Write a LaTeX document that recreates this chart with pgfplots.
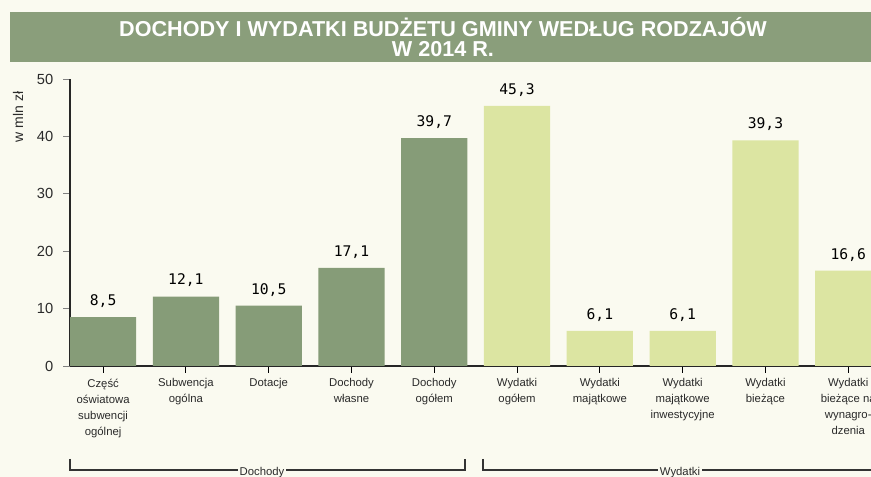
\documentclass[border=0pt]{standalone}
\usepackage{fontspec}
\setmainfont{Liberation Sans}
\newfontfamily\valfont{DejaVu Sans Mono}
\usepackage{pgfplots}
\pgfplotsset{compat=1.18}
\definecolor{bg}{HTML}{FAFAF0}
\definecolor{band}{HTML}{8A9E7B}
\definecolor{darkbar}{HTML}{869C78}
\definecolor{lightbar}{HTML}{DCE5A2}
\definecolor{txt}{HTML}{2A2A2A}
\begin{document}
\begin{tikzpicture}[x=0.75pt,y=0.75pt]
\useasboundingbox (0,0) rectangle (871,477);
\clip (0,0) rectangle (871,477);
\fill[bg] (0,0) rectangle (871,477);
\fill[band] (10,415) rectangle (871,465);
\node[white, font=\fontsize{16.2}{15}\selectfont\bfseries, align=center] at (443,440) {DOCHODY I WYDATKI BUDŻETU GMINY WEDŁUG RODZAJÓW\\W 2014 R.};
\node[rotate=90, font=\fontsize{10.5}{12}\selectfont, text=txt] at (18,360) {w mln zł};
\begin{axis}[
  at={(52.5pt,83.25pt)}, anchor=south west,
  scale only axis, width=600.75pt, height=215.25pt,
  xmin=-0.4, xmax=9.275, ymin=0, ymax=50,
  axis lines=left,
  axis line style={-, line width=1pt, black!85},
  ybar, bar width=0.8, 
  ytick={0,10,20,30,40,50},
  xtick={0,1,2,3,4,5,6,7,8,9},
  xticklabels={{Część\\oświatowa\\subwencji\\ogólnej},{Subwencja\\ogólna},{Dotacje},{Dochody\\własne},{Dochody\\ogółem},{Wydatki\\ogółem},{Wydatki\\majątkowe},{Wydatki\\majątkowe\\inwestycyjne},{Wydatki\\bieżące},{Wydatki\\bieżące na\\wynagro-\\dzenia}},
  xticklabel style={align=center, font=\fontsize{8.5}{12}\selectfont, text=txt, yshift=-1pt},
  yticklabel style={font=\fontsize{11}{12}\selectfont, text=txt, xshift=-4pt},
  tick align=outside,
  xtick style={black, line width=0.8pt},
  ytick style={black!50, line width=0.6pt},
  major tick length=5pt,
  /pgf/number format/assume math mode=true,
  nodes near coords,
  nodes near coords style={font=\valfont\fontsize{11}{12}\selectfont, text=black, inner sep=0pt, yshift=7pt,
    /pgf/number format/.cd, use comma, fixed, fixed zerofill, precision=1},
  every axis plot/.append style={draw=none},
]
\addplot[fill=darkbar, bar shift=0pt] coordinates {(0,8.5) (1,12.1) (2,10.5) (3,17.1) (4,39.7)};
\addplot[fill=lightbar, bar shift=0pt] coordinates {(5,45.3) (6,6.1) (7,6.1) (8,39.3) (9,16.6)};
\end{axis}
\draw[black!80, line width=0.9pt] (70,18) -- (70,7) -- (465,7) -- (465,18);
\draw[black!80, line width=0.9pt] (483,18) -- (483,7) -- (890,7);
\node[fill=bg, inner sep=1.5pt, font=\fontsize{8.5}{10}\selectfont, text=txt] at (262,4) {Dochody};
\node[fill=bg, inner sep=1.5pt, font=\fontsize{8.5}{10}\selectfont, text=txt] at (680,4) {Wydatki};
\end{tikzpicture}
\end{document}
